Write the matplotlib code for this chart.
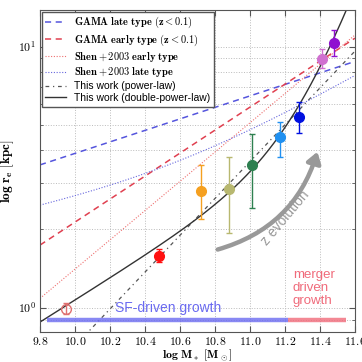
import matplotlib
matplotlib.use('Agg')
import matplotlib.pyplot as plt
import numpy as np
from matplotlib.patches import FancyArrowPatch
from matplotlib.ticker import FixedLocator, FuncFormatter, NullFormatter

plt.rcParams['mathtext.fontset'] = 'cm'
plt.rcParams['font.family'] = ['Liberation Sans', 'DejaVu Sans']

# measured sizes (stacked bins)
mass = [9.95, 10.48, 10.72, 10.88, 11.01, 11.17, 11.28, 11.41, 11.48]
re_kpc = [0.99, 1.58, 2.81, 2.85, 3.52, 4.52, 5.39, 8.95, 10.3]
re_low = [0.95, 1.50, 2.19, 1.94, 2.42, 3.78, 4.66, 8.30, 9.16]
re_high = [1.04, 1.68, 3.52, 3.77, 4.63, 5.15, 6.15, 9.77, 11.6]
colors = ['#e07070', '#ff1010', '#f5a020', '#b8b870', '#2e8050',
          '#2090f0', '#0010e0', '#d070d0', '#9010d0']
open_marker = [True, False, False, False, False, False, False, False, False]

# relations: (log r at 9.8, slope)
gama_late = (0.547, 0.22)
gama_early = (0.240, 0.44)
shen_early = (0.036, 0.56)
# Shen late: log r = c + alpha*x + (beta-alpha)*log10(1 + 10^(x - x0))
shen_late = (-0.995, 0.14, 0.39, 10.6)
# this work, power law: (log M ref, log r ref, slope)
pl_fit = (10.076, -0.092, 0.705)
# this work, double power law: (c, a, b, x0, sharpness)
dpl_fit = (0.575, 0.42, 1.9, 11.3, 2.0)

bar_split = [9.84, 11.22, 11.55]

xs = np.linspace(9.8, 11.6, 300)

fig = plt.figure(figsize=(3.62, 3.62), dpi=100)
ax = fig.add_axes([0.1105, 0.0837, 0.87, 0.8887])
ax.set_yscale('log')

l1, = ax.plot(xs, 10 ** (gama_late[0] + gama_late[1] * (xs - 9.8)),
              ls=(0, (4, 3)), color='#5555dd', lw=1.1)
l2, = ax.plot(xs, 10 ** (gama_early[0] + gama_early[1] * (xs - 9.8)),
              ls=(0, (4, 3)), color='#e04050', lw=1.1)
l3, = ax.plot(xs, 10 ** (shen_early[0] + shen_early[1] * (xs - 9.8)),
              ls=(0, (1, 1.5)), color='#ee7070', lw=0.8)
c, al, be, x0 = shen_late
l4, = ax.plot(xs, 10 ** (c + al * xs + (be - al) * np.log10(1 + 10 ** (xs - x0))),
              ls=(0, (1, 1.5)), color='#6666dd', lw=0.8)
l5, = ax.plot(xs, 10 ** (pl_fit[1] + pl_fit[2] * (xs - pl_fit[0])),
              ls=(0, (3, 3, 1, 3)), color='#555555', lw=0.9)
c, a, b, x0, d = dpl_fit
l6, = ax.plot(xs, 10 ** (c + a * (xs - x0) + (b - a) / d * np.log10(1 + 10 ** (d * (xs - x0)))),
              color='#333333', lw=1.0)

for i in range(len(mass)):
    lo = re_kpc[i] - re_low[i]
    hi = re_high[i] - re_kpc[i]
    face = 'none' if open_marker[i] else colors[i]
    ax.errorbar(mass[i], re_kpc[i], yerr=[[lo], [hi]], fmt='o', ms=7,
                mfc=face, mec=colors[i], ecolor=colors[i], elinewidth=1,
                capsize=2, zorder=5)

# growth bands
ax.plot([bar_split[0], bar_split[1]], [0.897, 0.897], color='#6a6af0', lw=3.2, alpha=0.8,
        solid_capstyle='butt')
ax.plot([bar_split[1], bar_split[2]], [0.897, 0.897], color='#f06a7a', lw=3.2, alpha=0.8,
        solid_capstyle='butt')
ax.text(10.23, 1.0, 'SF-driven growth', color='#6a6af0', fontsize=10,
        va='center', ha='left')
ax.text(11.245, 1.19, 'merger\ndriven\ngrowth', color='#f06a7a', fontsize=9.5,
        va='center', ha='left', linespacing=1.15)

# z evolution arrow
arr = FancyArrowPatch((10.80, 1.66), (11.39, 4.05), connectionstyle='arc3,rad=0.28',
                      arrowstyle='-|>,head_length=0.45,head_width=0.3',
                      mutation_scale=14, lw=3.2, color='#999999', zorder=3)
ax.add_patch(arr)
ax.text(11.2, 2.2, 'z evolution', color='#999999', fontsize=10, rotation=50,
        ha='center', va='center')

ax.set_xlim(9.8, 11.6)
ax.set_ylim(0.81, 13.8)

xt = np.round(np.arange(9.8, 11.61, 0.2), 1)
ax.xaxis.set_major_locator(FixedLocator(xt))
ax.xaxis.set_major_formatter(FuncFormatter(lambda v, p: r'$\mathbf{%.1f}$' % v))
ax.yaxis.set_major_locator(FixedLocator([1, 10]))
ax.yaxis.set_major_formatter(FuncFormatter(lambda v, p: r'$\mathbf{10^{%d}}$' % round(np.log10(v))))
ax.yaxis.set_minor_locator(FixedLocator([0.9] + list(range(2, 10))))
ax.yaxis.set_minor_formatter(NullFormatter())
ax.tick_params(which='both', direction='in', top=True, right=True, labelsize=8.5,
               color='#555555', pad=3)
ax.tick_params(which='major', length=4)
ax.tick_params(which='minor', length=2)
ax.grid(True, which='both', ls=':', color='#bbbbbb', lw=0.7)
for s in ax.spines.values():
    s.set_color('#555555')

ax.set_xlabel(r'$\mathbf{log\ M_*\ [M_\odot]}$', fontsize=8.5, labelpad=0)
ax.set_ylabel(r'$\mathbf{log\ r_e\ [kpc]}$', fontsize=9.5, labelpad=1)

labels = [r'$\mathbf{GAMA\ late\ type\ (z<0.1)}$',
          r'$\mathbf{GAMA\ early\ type\ (z<0.1)}$',
          r'$\mathbf{Shen+2003\ early\ type}$',
          r'$\mathbf{Shen+2003\ late\ type}$',
          'This work (power-law)',
          'This work (double-power-law)']
leg = ax.legend([l1, l2, l3, l4, l5, l6], labels, loc='upper left', fontsize=7.5,
                fancybox=False, framealpha=1, edgecolor='#555555',
                borderaxespad=0.15, handlelength=2.0, labelspacing=0.18,
                handletextpad=0.8, borderpad=0.35)
leg.get_frame().set_linewidth(1.0)

fig.savefig('out.png', dpi=100)
